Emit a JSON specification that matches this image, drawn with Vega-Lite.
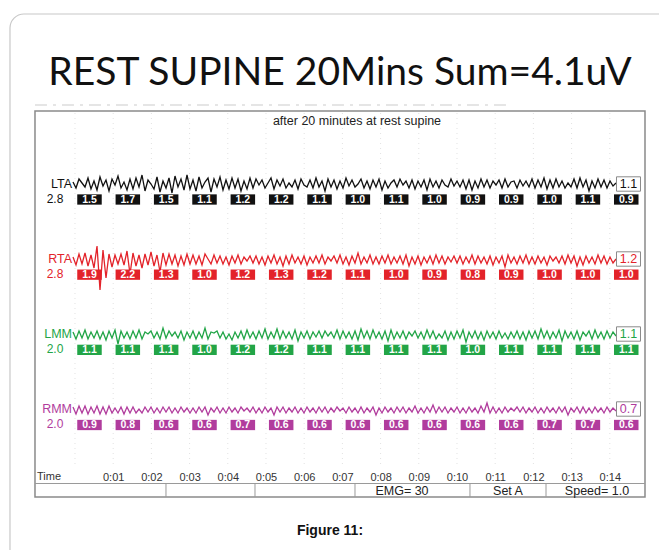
{
"$schema":"https://vega.github.io/schema/vega-lite/v6.json",
"width":659,"height":550,"autosize":"none","padding":0,"background":"white",
"config":{"view":{"stroke":null},"font":"Liberation Sans"},
"resolve":{"scale":{"x":"independent","y":"independent"}},
"datasets":{
"chans":[{"ch":"LTA","gain":"2.8","rv":"1.1"},{"ch":"RTA","gain":"2.8","rv":"1.2"},{"ch":"LMM","gain":"2.0","rv":"1.1"},{"ch":"RMM","gain":"2.0","rv":"0.7"}],
"boxes":[
{"ch":"LTA","s":1,"v":1.5},{"ch":"LTA","s":2,"v":1.7},{"ch":"LTA","s":3,"v":1.5},{"ch":"LTA","s":4,"v":1.1},{"ch":"LTA","s":5,"v":1.2},{"ch":"LTA","s":6,"v":1.2},{"ch":"LTA","s":7,"v":1.1},{"ch":"LTA","s":8,"v":1.0},{"ch":"LTA","s":9,"v":1.1},{"ch":"LTA","s":10,"v":1.0},{"ch":"LTA","s":11,"v":0.9},{"ch":"LTA","s":12,"v":0.9},{"ch":"LTA","s":13,"v":1.0},{"ch":"LTA","s":14,"v":1.1},{"ch":"LTA","s":15,"v":0.9},
{"ch":"RTA","s":1,"v":1.9},{"ch":"RTA","s":2,"v":2.2},{"ch":"RTA","s":3,"v":1.3},{"ch":"RTA","s":4,"v":1.0},{"ch":"RTA","s":5,"v":1.2},{"ch":"RTA","s":6,"v":1.3},{"ch":"RTA","s":7,"v":1.2},{"ch":"RTA","s":8,"v":1.1},{"ch":"RTA","s":9,"v":1.0},{"ch":"RTA","s":10,"v":0.9},{"ch":"RTA","s":11,"v":0.8},{"ch":"RTA","s":12,"v":0.9},{"ch":"RTA","s":13,"v":1.0},{"ch":"RTA","s":14,"v":1.0},{"ch":"RTA","s":15,"v":1.0},
{"ch":"LMM","s":1,"v":1.1},{"ch":"LMM","s":2,"v":1.1},{"ch":"LMM","s":3,"v":1.1},{"ch":"LMM","s":4,"v":1.0},{"ch":"LMM","s":5,"v":1.2},{"ch":"LMM","s":6,"v":1.2},{"ch":"LMM","s":7,"v":1.1},{"ch":"LMM","s":8,"v":1.1},{"ch":"LMM","s":9,"v":1.1},{"ch":"LMM","s":10,"v":1.1},{"ch":"LMM","s":11,"v":1.0},{"ch":"LMM","s":12,"v":1.1},{"ch":"LMM","s":13,"v":1.1},{"ch":"LMM","s":14,"v":1.1},{"ch":"LMM","s":15,"v":1.1},
{"ch":"RMM","s":1,"v":0.9},{"ch":"RMM","s":2,"v":0.8},{"ch":"RMM","s":3,"v":0.6},{"ch":"RMM","s":4,"v":0.6},{"ch":"RMM","s":5,"v":0.7},{"ch":"RMM","s":6,"v":0.6},{"ch":"RMM","s":7,"v":0.6},{"ch":"RMM","s":8,"v":0.6},{"ch":"RMM","s":9,"v":0.6},{"ch":"RMM","s":10,"v":0.6},{"ch":"RMM","s":11,"v":0.6},{"ch":"RMM","s":12,"v":0.6},{"ch":"RMM","s":13,"v":0.7},{"ch":"RMM","s":14,"v":0.7},{"ch":"RMM","s":15,"v":0.6}
],
"trace":[
{"i":0,"a":2,"b":3,"c":3,"d":3},{"i":1,"a":-4,"b":-5,"c":-4,"d":-4},{"i":2,"a":5,"b":6,"c":4,"d":4},{"i":3,"a":1,"b":-4,"c":-3,"d":-3},{"i":4,"a":-3,"b":7,"c":5,"d":4},{"i":5,"a":6,"b":-6,"c":-4,"d":-4},{"i":6,"a":-5,"b":5,"c":3,"d":3},{"i":7,"a":3,"b":-8,"c":-3,"d":-3},{"i":8,"a":-6,"b":14,"c":4,"d":4},{"i":9,"a":7,"b":-30,"c":-4,"d":-4},
{"i":10,"a":-2,"b":10,"c":3,"d":3},{"i":11,"a":4,"b":-18,"c":-5,"d":-4},{"i":12,"a":-7,"b":6,"c":4,"d":4},{"i":13,"a":5,"b":-7,"c":-3,"d":-3},{"i":14,"a":-1,"b":5,"c":5,"d":2},{"i":15,"a":8,"b":-4,"c":-9,"d":-3},{"i":16,"a":-4,"b":6,"c":4,"d":3},{"i":17,"a":2,"b":-5,"c":-3,"d":-4},{"i":18,"a":-6,"b":9,"c":3,"d":3},{"i":19,"a":5,"b":-14,"c":-4,"d":-3},
{"i":20,"a":-5,"b":7,"c":4,"d":3},{"i":21,"a":6,"b":-6,"c":-3,"d":-3},{"i":22,"a":-3,"b":5,"c":5,"d":1},{"i":23,"a":9,"b":-8,"c":-4,"d":-3},{"i":24,"a":-7,"b":6,"c":3,"d":3},{"i":25,"a":4,"b":-5,"c":1,"d":-2},{"i":26,"a":0,"b":8,"c":4,"d":3},{"i":27,"a":-5,"b":-6,"c":-3,"d":-3},{"i":28,"a":7,"b":5,"c":3,"d":2},{"i":29,"a":-8,"b":-12,"c":-4,"d":-3},
{"i":30,"a":3,"b":7,"c":7,"d":3},{"i":31,"a":-4,"b":-5,"c":-3,"d":-2},{"i":32,"a":6,"b":6,"c":4,"d":3},{"i":33,"a":-9,"b":-4,"c":-1,"d":-3},{"i":34,"a":8,"b":5,"c":3,"d":2},{"i":35,"a":-3,"b":-6,"c":-3,"d":-3},{"i":36,"a":5,"b":4,"c":4,"d":3},{"i":37,"a":-6,"b":-5,"c":-5,"d":-2},{"i":38,"a":9,"b":6,"c":3,"d":2},{"i":39,"a":-5,"b":-4,"c":-3,"d":-3},
{"i":40,"a":4,"b":5,"c":4,"d":2},{"i":41,"a":-7,"b":-4,"c":-4,"d":-3},{"i":42,"a":7,"b":4,"c":3,"d":3},{"i":43,"a":-4,"b":-5,"c":-3,"d":-2},{"i":44,"a":2,"b":6,"c":7,"d":3},{"i":45,"a":6,"b":1,"c":-4,"d":-5},{"i":46,"a":-8,"b":-4,"c":3,"d":2},{"i":47,"a":5,"b":5,"c":2,"d":-2},{"i":48,"a":-3,"b":-3,"c":4,"d":3},{"i":49,"a":7,"b":4,"c":-3,"d":-3},
{"i":50,"a":-6,"b":-4,"c":3,"d":2},{"i":51,"a":4,"b":3,"c":-4,"d":-3},{"i":52,"a":-5,"b":-5,"c":1,"d":3},{"i":53,"a":6,"b":4,"c":-5,"d":-2},{"i":54,"a":-4,"b":-3,"c":3,"d":2},{"i":55,"a":5,"b":5,"c":-3,"d":-3},{"i":56,"a":-7,"b":-4,"c":4,"d":3},{"i":57,"a":3,"b":3,"c":-4,"d":-1},{"i":58,"a":-5,"b":-1,"c":5,"d":2},{"i":59,"a":6,"b":4,"c":-3,"d":-2},
{"i":60,"a":-4,"b":-3,"c":3,"d":3},{"i":61,"a":5,"b":4,"c":-4,"d":-3},{"i":62,"a":-1,"b":-4,"c":4,"d":2},{"i":63,"a":4,"b":3,"c":-3,"d":-3},{"i":64,"a":-4,"b":-5,"c":6,"d":3},{"i":65,"a":1,"b":4,"c":-4,"d":-2},{"i":66,"a":6,"b":-3,"c":3,"d":2},{"i":67,"a":-5,"b":5,"c":-3,"d":-5},{"i":68,"a":4,"b":-4,"c":6,"d":3},{"i":69,"a":-2,"b":3,"c":-4,"d":-2},
{"i":70,"a":5,"b":-6,"c":4,"d":3},{"i":71,"a":-4,"b":4,"c":-3,"d":-3},{"i":72,"a":1,"b":-4,"c":3,"d":2},{"i":73,"a":-3,"b":5,"c":-4,"d":-2},{"i":74,"a":4,"b":-3,"c":5,"d":3},{"i":75,"a":-5,"b":3,"c":-6,"d":-3},{"i":76,"a":5,"b":-4,"c":3,"d":2},{"i":77,"a":-1,"b":4,"c":-3,"d":-3},{"i":78,"a":-3,"b":-5,"c":4,"d":3},{"i":79,"a":4,"b":3,"c":-4,"d":-2},
{"i":80,"a":-4,"b":-3,"c":3,"d":2},{"i":81,"a":6,"b":4,"c":-2,"d":-3},{"i":82,"a":-3,"b":-3,"c":4,"d":3},{"i":83,"a":3,"b":5,"c":-3,"d":-2},{"i":84,"a":-7,"b":-4,"c":4,"d":3},{"i":85,"a":5,"b":3,"c":-1,"d":-3},{"i":86,"a":-3,"b":-1,"c":3,"d":2},{"i":87,"a":4,"b":4,"c":-3,"d":-2},{"i":88,"a":-5,"b":-3,"c":5,"d":3},{"i":89,"a":3,"b":5,"c":-4,"d":-1},
{"i":90,"a":-4,"b":-4,"c":4,"d":2},{"i":91,"a":6,"b":3,"c":-3,"d":-3},{"i":92,"a":-2,"b":-5,"c":3,"d":3},{"i":93,"a":4,"b":4,"c":-4,"d":-2},{"i":94,"a":-3,"b":-3,"c":4,"d":2},{"i":95,"a":0,"b":7,"c":-5,"d":-3},{"i":96,"a":5,"b":-4,"c":6,"d":3},{"i":97,"a":-4,"b":3,"c":-3,"d":-3},{"i":98,"a":3,"b":-3,"c":4,"d":2},{"i":99,"a":-5,"b":5,"c":-4,"d":-2},
{"i":100,"a":4,"b":-4,"c":5,"d":3},{"i":101,"a":-3,"b":3,"c":-3,"d":-5},{"i":102,"a":5,"b":-4,"c":3,"d":2},{"i":103,"a":-6,"b":4,"c":-4,"d":-3},{"i":104,"a":3,"b":-3,"c":4,"d":3},{"i":105,"a":-4,"b":5,"c":-6,"d":-2},{"i":106,"a":1,"b":-4,"c":5,"d":2},{"i":107,"a":4,"b":3,"c":-4,"d":-3},{"i":108,"a":-3,"b":-3,"c":3,"d":3},{"i":109,"a":5,"b":4,"c":-3,"d":-2},
{"i":110,"a":-1,"b":-4,"c":4,"d":3},{"i":111,"a":3,"b":5,"c":-4,"d":-3},{"i":112,"a":-4,"b":-6,"c":3,"d":2},{"i":113,"a":4,"b":3,"c":-1,"d":-2},{"i":114,"a":-5,"b":-4,"c":4,"d":4},{"i":115,"a":3,"b":4,"c":-3,"d":-3},{"i":116,"a":-3,"b":-5,"c":3,"d":2},{"i":117,"a":4,"b":3,"c":-4,"d":-3},{"i":118,"a":-6,"b":-3,"c":5,"d":3},{"i":119,"a":5,"b":4,"c":-3,"d":-2},
{"i":120,"a":-3,"b":-4,"c":4,"d":5},{"i":121,"a":3,"b":5,"c":-4,"d":-3},{"i":122,"a":-4,"b":-3,"c":1,"d":3},{"i":123,"a":4,"b":4,"c":-3,"d":-2},{"i":124,"a":-1,"b":-4,"c":4,"d":3},{"i":125,"a":-3,"b":3,"c":-5,"d":-3},{"i":126,"a":5,"b":-2,"c":3,"d":2},{"i":127,"a":-2,"b":4,"c":-4,"d":-2},{"i":128,"a":3,"b":-3,"c":4,"d":3},{"i":129,"a":-3,"b":4,"c":-3,"d":-3},
{"i":130,"a":4,"b":-4,"c":5,"d":2},{"i":131,"a":-5,"b":3,"c":-7,"d":-3},{"i":132,"a":4,"b":-3,"c":3,"d":3},{"i":133,"a":-6,"b":5,"c":-3,"d":-2},{"i":134,"a":3,"b":-4,"c":4,"d":2},{"i":135,"a":-4,"b":4,"c":-4,"d":-3},{"i":136,"a":5,"b":-3,"c":3,"d":4},{"i":137,"a":-3,"b":3,"c":-5,"d":-2},{"i":138,"a":4,"b":-4,"c":4,"d":7},{"i":139,"a":-4,"b":4,"c":-3,"d":-3},
{"i":140,"a":3,"b":-5,"c":3,"d":3},{"i":141,"a":-1,"b":3,"c":-4,"d":-3},{"i":142,"a":4,"b":-3,"c":4,"d":2},{"i":143,"a":-4,"b":4,"c":-3,"d":-3},{"i":144,"a":5,"b":-7,"c":2,"d":3},{"i":145,"a":-3,"b":5,"c":-4,"d":-2},{"i":146,"a":2,"b":-3,"c":3,"d":2},{"i":147,"a":3,"b":3,"c":-3,"d":-1},{"i":148,"a":-4,"b":-4,"c":4,"d":3},{"i":149,"a":4,"b":4,"c":-4,"d":-2},
{"i":150,"a":-2,"b":-3,"c":3,"d":3},{"i":151,"a":3,"b":5,"c":-5,"d":-3},{"i":152,"a":-3,"b":-4,"c":4,"d":2},{"i":153,"a":5,"b":3,"c":-3,"d":-2},{"i":154,"a":-4,"b":-4,"c":4,"d":3},{"i":155,"a":4,"b":4,"c":-4,"d":-3},{"i":156,"a":-3,"b":-3,"c":6,"d":2},{"i":157,"a":6,"b":3,"c":-3,"d":-3},{"i":158,"a":-5,"b":-5,"c":4,"d":3},{"i":159,"a":4,"b":4,"c":-4,"d":-2},
{"i":160,"a":-4,"b":-1,"c":3,"d":2},{"i":161,"a":5,"b":3,"c":-3,"d":-3},{"i":162,"a":-3,"b":-3,"c":5,"d":3},{"i":163,"a":3,"b":4,"c":-6,"d":-2},{"i":164,"a":-4,"b":-4,"c":4,"d":3},{"i":165,"a":1,"b":5,"c":-3,"d":-5},{"i":166,"a":-3,"b":-3,"c":3,"d":2},{"i":167,"a":5,"b":4,"c":-4,"d":-2},{"i":168,"a":-4,"b":-6,"c":4,"d":3},{"i":169,"a":6,"b":3,"c":-5,"d":-3},
{"i":170,"a":-3,"b":-5,"c":3,"d":3},{"i":171,"a":4,"b":4,"c":-1,"d":-3},{"i":172,"a":-7,"b":-3,"c":4,"d":2},{"i":173,"a":3,"b":3,"c":-4,"d":-3},{"i":174,"a":-4,"b":-4,"c":5,"d":3},{"i":175,"a":5,"b":5,"c":-3,"d":-2},{"i":176,"a":-3,"b":-3,"c":3,"d":2},{"i":177,"a":4,"b":4,"c":-4,"d":-3},{"i":178,"a":-4,"b":-4,"c":4,"d":3},{"i":179,"a":3,"b":3,"c":-3,"d":-2},
{"i":180,"a":-2,"b":-3,"c":3,"d":2},{"i":181,"a":1,"b":1,"c":-1,"d":-1}
]
},
"layer":[
{"data":{"values":[{}]},"mark":{"type":"rect","cornerRadius":14,"fill":"white","stroke":"#c8c8c8","strokeWidth":1.2,"clip":false},
 "encoding":{"x":{"datum":-1.7016,"type":"quantitative","scale":{"domain":[-1.963,15.288],"nice":false,"zero":false},"axis":null},"x2":{"datum":17.5},
 "y":{"datum":14,"type":"quantitative","scale":{"domain":[0,550],"reverse":true,"nice":false,"zero":false},"axis":null},"y2":{"datum":640}}},
{"data":{"values":[{}]},"mark":{"type":"text","font":"Lato","fontSize":39,"color":"#111111","align":"center","baseline":"alphabetic","text":"REST SUPINE 20Mins Sum=4.1uV"},
 "encoding":{"x":{"datum":6.9372,"type":"quantitative","scale":{"domain":[-1.963,15.288],"nice":false,"zero":false},"axis":null},
 "y":{"datum":85,"type":"quantitative","scale":{"domain":[0,550],"reverse":true,"nice":false,"zero":false},"axis":null}}},
{"data":{"values":[{}]},"mark":{"type":"rule","color":"#dddddd","strokeWidth":1.5,"strokeDash":[12,6,3,6]},
 "encoding":{"x":{"datum":-1.0471,"type":"quantitative","scale":{"domain":[-1.963,15.288],"nice":false,"zero":false},"axis":null},"x2":{"datum":11.3874},
 "y":{"datum":105,"type":"quantitative","scale":{"domain":[0,550],"reverse":true,"nice":false,"zero":false},"axis":null}}},
{"data":{"values":[{}]},"mark":{"type":"rect","fill":"white","stroke":"#8a8a8a","strokeWidth":1.5},
 "encoding":{"x":{"datum":-1.0471,"type":"quantitative","scale":{"domain":[-1.963,15.288],"nice":false,"zero":false},"axis":null},"x2":{"datum":14.9215},
 "y":{"datum":111,"type":"quantitative","scale":{"domain":[0,550],"reverse":true,"nice":false,"zero":false},"axis":null},"y2":{"datum":497}}},
{"data":{"values":[{"t":0},{"t":1},{"t":2},{"t":3},{"t":4},{"t":5},{"t":6},{"t":7},{"t":8},{"t":9},{"t":10},{"t":11},{"t":12},{"t":13},{"t":14}]},
 "mark":{"type":"rule","color":"#e2e2e2","strokeWidth":1,"strokeDash":[1,4]},
 "encoding":{"x":{"field":"t","type":"quantitative","scale":{"domain":[-1.963,15.288],"nice":false,"zero":false},
   "axis":{"orient":"bottom","offset":-79,"zindex":2,"values":[1,2,3,4,5,6,7,8,9,10,11,12,13,14],"labelExpr":"'0:' + (datum.value < 10 ? '0' : '') + datum.value","domain":false,"ticks":false,"tickSize":0,"grid":false,"labelPadding":0,"labelFont":"Liberation Sans","labelFontSize":11,"labelColor":"#333333","labelBaseline":"top","labelFlush":false,"labelOverlap":false,"title":null}},
 "y":{"datum":113,"type":"quantitative","scale":{"domain":[0,550],"reverse":true,"nice":false,"zero":false},"axis":null},"y2":{"datum":468}}},
{"data":{"values":[{}]},"mark":{"type":"rule","color":"#9a9a9a","strokeWidth":1},
 "encoding":{"x":{"datum":-1.0471,"type":"quantitative","scale":{"domain":[-1.963,15.288],"nice":false,"zero":false},"axis":null},"x2":{"datum":14.9215},
 "y":{"datum":483.5,"type":"quantitative","scale":{"domain":[0,550],"reverse":true,"nice":false,"zero":false},"axis":null}}},
{"data":{"values":[{"t":2.382},{"t":4.712},{"t":7.33},{"t":10.34},{"t":12.33}]},"mark":{"type":"rule","color":"#9a9a9a","strokeWidth":1},
 "encoding":{"x":{"field":"t","type":"quantitative","scale":{"domain":[-1.963,15.288],"nice":false,"zero":false},"axis":null},
 "y":{"datum":483.5,"type":"quantitative","scale":{"domain":[0,550],"reverse":true,"nice":false,"zero":false},"axis":null},"y2":{"datum":497}}},
{"data":{"values":[{"t":8.56,"label":"EMG= 30"},{"t":11.335,"label":"Set A"},{"t":13.665,"label":"Speed= 1.0"}]},
 "mark":{"type":"text","font":"Liberation Sans","fontSize":12.5,"color":"#222222","align":"center","baseline":"middle"},
 "encoding":{"x":{"field":"t","type":"quantitative","scale":{"domain":[-1.963,15.288],"nice":false,"zero":false},"axis":null},
 "y":{"datum":491,"type":"quantitative","scale":{"domain":[0,550],"reverse":true,"nice":false,"zero":false},"axis":null},"text":{"field":"label"}}},
{"data":{"values":[{}]},"mark":{"type":"text","font":"Liberation Sans","fontSize":11,"color":"#333333","align":"left","baseline":"middle","text":"Time"},
 "encoding":{"x":{"datum":-0.9948,"type":"quantitative","scale":{"domain":[-1.963,15.288],"nice":false,"zero":false},"axis":null},
 "y":{"datum":477,"type":"quantitative","scale":{"domain":[0,550],"reverse":true,"nice":false,"zero":false},"axis":null}}},
{"data":{"values":[{}]},"mark":{"type":"text","font":"Liberation Sans","fontSize":12.5,"color":"#222222","align":"center","baseline":"middle","text":"after 20 minutes at rest supine"},
 "encoding":{"x":{"datum":7.3822,"type":"quantitative","scale":{"domain":[-1.963,15.288],"nice":false,"zero":false},"axis":null},
 "y":{"datum":121,"type":"quantitative","scale":{"domain":[0,550],"reverse":true,"nice":false,"zero":false},"axis":null}}},
{"data":{"values":[{}]},"mark":{"type":"text","font":"Liberation Sans","fontSize":14,"fontWeight":"bold","color":"#111111","align":"center","baseline":"middle","text":"Figure 11:"},
 "encoding":{"x":{"datum":6.6754,"type":"quantitative","scale":{"domain":[-1.963,15.288],"nice":false,"zero":false},"axis":null},
 "y":{"datum":531,"type":"quantitative","scale":{"domain":[0,550],"reverse":true,"nice":false,"zero":false},"axis":null}}},
{"data":{"name":"trace"},"mark":{"type":"line","color":"#111111","strokeWidth":1.3},
 "encoding":{"x":{"field":"i","type":"quantitative","scale":{"domain":[-24.333,195.333],"nice":false,"zero":false},"axis":null},
 "y":{"field":"a","type":"quantitative","scale":{"domain":[-366,184],"nice":false,"zero":false},"axis":null}}},
{"data":{"name":"trace"},"mark":{"type":"line","color":"#e3232a","strokeWidth":1.3},
 "encoding":{"x":{"field":"i","type":"quantitative","scale":{"domain":[-24.333,195.333],"nice":false,"zero":false},"axis":null},
 "y":{"field":"b","type":"quantitative","scale":{"domain":[-290,260],"nice":false,"zero":false},"axis":null}}},
{"data":{"name":"trace"},"mark":{"type":"line","color":"#22a547","strokeWidth":1.3},
 "encoding":{"x":{"field":"i","type":"quantitative","scale":{"domain":[-24.333,195.333],"nice":false,"zero":false},"axis":null},
 "y":{"field":"c","type":"quantitative","scale":{"domain":[-215,335],"nice":false,"zero":false},"axis":null}}},
{"data":{"name":"trace"},"mark":{"type":"line","color":"#b13c9d","strokeWidth":1.3},
 "encoding":{"x":{"field":"i","type":"quantitative","scale":{"domain":[-24.333,195.333],"nice":false,"zero":false},"axis":null},
 "y":{"field":"d","type":"quantitative","scale":{"domain":[-140,410],"nice":false,"zero":false},"axis":null}}},
{"data":{"name":"chans"},"mark":{"type":"text","font":"Liberation Sans","fontSize":12.5,"align":"right","baseline":"middle"},
 "encoding":{"x":{"datum":-0.0785,"type":"quantitative","scale":{"domain":[-1.963,15.288],"nice":false,"zero":false},"axis":null},
 "y":{"field":"ch","type":"nominal","scale":{"type":"point","domain":["LTA","RTA","LMM","RMM"],"range":[183.5,408.5],"padding":0},"axis":null},
 "text":{"field":"ch"},
 "color":{"field":"ch","type":"nominal","scale":{"domain":["LTA","RTA","LMM","RMM"],"range":["#111111","#e3232a","#22a547","#b13c9d"]},"legend":null}}},
{"data":{"name":"chans"},"mark":{"type":"text","font":"Liberation Sans","fontSize":12,"align":"center","baseline":"middle"},
 "encoding":{"x":{"datum":-0.5236,"type":"quantitative","scale":{"domain":[-1.963,15.288],"nice":false,"zero":false},"axis":null},
 "y":{"field":"ch","type":"nominal","scale":{"type":"point","domain":["LTA","RTA","LMM","RMM"],"range":[199,424],"padding":0},"axis":null},
 "text":{"field":"gain"},
 "color":{"field":"ch","type":"nominal","scale":{"domain":["LTA","RTA","LMM","RMM"],"range":["#111111","#e3232a","#22a547","#b13c9d"]},"legend":null}}},
{"data":{"name":"chans"},"mark":{"type":"point","shape":"M-1,-0.6H1V0.6H-1Z","size":576,"filled":true,"fill":"white","stroke":"#8a8a8a","strokeWidth":1,"opacity":1},
 "encoding":{"x":{"datum":14.4895,"type":"quantitative","scale":{"domain":[-1.963,15.288],"nice":false,"zero":false},"axis":null},
 "y":{"field":"ch","type":"nominal","scale":{"type":"point","domain":["LTA","RTA","LMM","RMM"],"range":[184,409],"padding":0},"axis":null}}},
{"data":{"name":"chans"},"mark":{"type":"text","font":"Liberation Sans","fontSize":12.5,"align":"center","baseline":"middle"},
 "encoding":{"x":{"datum":14.4895,"type":"quantitative","scale":{"domain":[-1.963,15.288],"nice":false,"zero":false},"axis":null},
 "y":{"field":"ch","type":"nominal","scale":{"type":"point","domain":["LTA","RTA","LMM","RMM"],"range":[184,409],"padding":0},"axis":null},
 "text":{"field":"rv"},
 "color":{"field":"ch","type":"nominal","scale":{"domain":["LTA","RTA","LMM","RMM"],"range":["#111111","#e3232a","#22a547","#b13c9d"]},"legend":null}}},
{"data":{"name":"boxes"},"mark":{"type":"point","shape":"M-1,-0.42H1V0.42H-1Z","size":600,"filled":true,"opacity":1,"strokeWidth":0},
 "encoding":{"x":{"field":"s","type":"quantitative","scale":{"domain":[-1.334,15.854],"nice":false,"zero":false},"axis":null},
 "y":{"field":"ch","type":"nominal","scale":{"type":"point","domain":["LTA","RTA","LMM","RMM"],"range":[199.5,425],"padding":0},"axis":null},
 "color":{"field":"ch","type":"nominal","scale":{"domain":["LTA","RTA","LMM","RMM"],"range":["#111111","#e3232a","#22a547","#b13c9d"]},"legend":null}}},
{"data":{"name":"boxes"},"mark":{"type":"text","font":"Liberation Sans","fontSize":10.5,"fontWeight":"bold","color":"white","align":"center","baseline":"middle"},
 "encoding":{"x":{"field":"s","type":"quantitative","scale":{"domain":[-1.334,15.854],"nice":false,"zero":false},"axis":null},
 "y":{"field":"ch","type":"nominal","scale":{"type":"point","domain":["LTA","RTA","LMM","RMM"],"range":[199.5,425],"padding":0},"axis":null},
 "text":{"field":"v","type":"quantitative","format":".1f"}}}
]
}
